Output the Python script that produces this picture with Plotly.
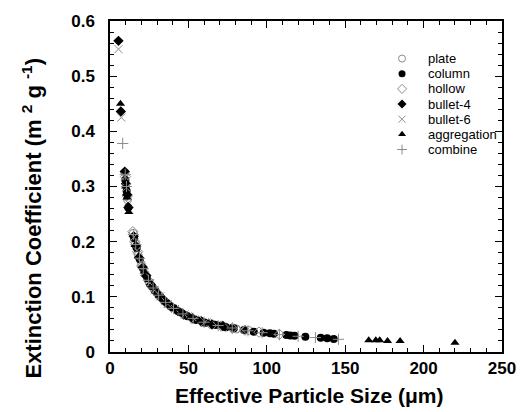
import plotly.graph_objects as go

# Effective particle size (um) and extinction coefficient (m^2/g) per ice-crystal habit
plate_d = [9.5, 11.2, 14.8, 16.2, 18.0, 20.0, 22.5, 25.0, 28.0, 31.0, 34.5, 38.5, 43.0, 48.0, 53.5, 59.5, 66.0, 73.0, 80.5, 88.5]
plate_k = [0.325, 0.276, 0.215, 0.196, 0.176, 0.159, 0.141, 0.127, 0.114, 0.103, 0.093, 0.083, 0.075, 0.067, 0.060, 0.054, 0.050, 0.046, 0.042, 0.039]

column_d = [9.8, 10.6, 11.6, 15.4, 17.0, 19.0, 21.0, 23.5, 26.5, 29.0, 32.5, 36.0, 40.0, 44.5, 49.5, 55.0, 61.0, 67.5, 74.0, 79.0,
            85.4, 91.7, 98.0, 102.0, 104.5, 112.5, 115.0, 117.7, 124.6, 134.4, 138.5, 142.7]
column_k = [0.312, 0.292, 0.262, 0.206, 0.188, 0.168, 0.152, 0.136, 0.120, 0.111, 0.099, 0.089, 0.080, 0.072, 0.065, 0.058, 0.053, 0.049, 0.045, 0.043,
            0.040, 0.0367, 0.035, 0.0338, 0.033, 0.0307, 0.030, 0.0295, 0.0277, 0.026, 0.0247, 0.0235]

hollow_d = [9.9, 11.0, 14.6, 15.9, 17.6, 20.5, 23.0, 27.0, 30.0, 35.0, 39.0, 46.0, 52.0, 58.0, 64.0, 71.0, 78.0, 86.0, 95.0, 108.0]
hollow_k = [0.318, 0.283, 0.218, 0.200, 0.182, 0.155, 0.139, 0.118, 0.107, 0.091, 0.082, 0.070, 0.062, 0.056, 0.051, 0.047, 0.043, 0.0395, 0.036, 0.032]

bullet4_d = [5.4, 6.9, 9.4, 10.2, 11.0, 11.8, 15.1, 16.6, 18.5, 20.8, 23.0, 26.0, 29.5, 33.5, 37.5, 42.0, 47.0, 52.5, 58.5, 65.0, 72.0]
bullet4_k = [0.564, 0.436, 0.327, 0.305, 0.285, 0.262, 0.210, 0.192, 0.171, 0.153, 0.138, 0.122, 0.108, 0.096, 0.086, 0.077, 0.068, 0.061, 0.055, 0.050, 0.047]

bullet6_d = [5.4, 7.2, 9.6, 10.4, 11.4, 15.2, 17.2, 19.5, 22.0, 25.5, 28.5, 32.0, 36.8, 41.5, 47.5, 54.0, 60.5, 68.0, 76.0, 84.0]
bullet6_k = [0.549, 0.425, 0.318, 0.298, 0.270, 0.208, 0.184, 0.163, 0.145, 0.125, 0.112, 0.101, 0.087, 0.078, 0.068, 0.059, 0.054, 0.048, 0.044, 0.041]

aggreg_d = [6.7, 10.0, 10.8, 11.5, 12.0, 16.0, 18.2, 21.8, 24.5, 27.5, 31.5, 35.5, 41.0, 45.5, 51.0, 57.0, 63.0, 70.0, 77.0,
            165.0, 169.5, 172.0, 177.0, 185.0, 220.0]
aggreg_k = [0.450, 0.300, 0.280, 0.265, 0.254, 0.194, 0.174, 0.146, 0.130, 0.117, 0.102, 0.090, 0.079, 0.071, 0.063, 0.057, 0.052, 0.048, 0.044,
            0.0215, 0.0215, 0.0212, 0.0198, 0.0198, 0.0168]

combine_d = [8.1, 9.7, 10.5, 14.9, 16.4, 18.8, 21.2, 24.5, 27.5, 31.0, 35.5, 40.5, 46.5, 53.0, 60.0, 69.0, 78.0, 88.0, 97.0, 108.0, 120.0, 131.0, 145.7]
combine_k = [0.378, 0.322, 0.300, 0.213, 0.195, 0.170, 0.151, 0.130, 0.116, 0.103, 0.090, 0.079, 0.069, 0.061, 0.054, 0.048, 0.0435, 0.0385, 0.035, 0.0315, 0.0285, 0.0262, 0.023]

GRAY = "#8c8c8c"
FONT = "Liberation Sans, Arial, sans-serif"

# (label, x, y, symbol, colour, open outline?)
series = [
    ("plate", plate_d, plate_k, "circle-open", GRAY, True),
    ("column", column_d, column_k, "circle", "black", False),
    ("hollow", hollow_d, hollow_k, "diamond-open", GRAY, True),
    ("bullet-4", bullet4_d, bullet4_k, "diamond", "black", False),
    ("bullet-6", bullet6_d, bullet6_k, "x-thin-open", GRAY, True),
    ("aggregation", aggreg_d, aggreg_k, "triangle-up", "black", False),
    ("combine", combine_d, combine_k, "cross-thin-open", GRAY, True),
]


def marker_style(symbol, color, is_open, size):
    m = dict(symbol=symbol, size=size, color=color)
    if is_open:
        m["line"] = dict(width=1, color=color)
    else:
        m["line"] = dict(width=0)
    return m


fig = go.Figure()
for name, d, k, symbol, color, is_open in series:
    fig.add_trace(go.Scatter(x=d, y=k, mode="markers", name=name, showlegend=False,
                             marker=marker_style(symbol, color, is_open, 8)))

# Hand-built key: symbols on an overlay axis spanning the plot area in [0,1]
LEG_SYM_X = 0.745
LEG_TXT_X = 0.806
LEG_TOP = 0.8865
LEG_STEP = 0.0458
annotations = []
for i, (name, _, _, symbol, color, is_open) in enumerate(series):
    yy = LEG_TOP - i * LEG_STEP
    fig.add_trace(go.Scatter(x=[LEG_SYM_X], y=[yy], mode="markers", showlegend=False,
                             xaxis="x2", yaxis="y2", hoverinfo="skip",
                             marker=marker_style(symbol, color, is_open, 7)))
    annotations.append(dict(text=name, xref="paper", yref="paper", x=LEG_TXT_X, y=yy,
                            xanchor="left", yanchor="middle", showarrow=False,
                            font=dict(family=FONT, size=13, color="black")))

# Axis titles
annotations.append(dict(text="Effective Particle Size (μm)", xref="paper", yref="paper",
                        x=0.5075, y=-0.13, xanchor="center", yanchor="middle", showarrow=False,
                        font=dict(family=FONT, size=21, color="black", weight="bold")))
annotations.append(dict(text="Extinction Coefficient (m <sup>2</sup> g <sup>-1</sup>)", xref="paper", yref="paper",
                        x=-0.2, y=0.405, xanchor="center", yanchor="middle", textangle=-90, showarrow=False,
                        font=dict(family=FONT, size=22, color="black", weight="bold")))

axis_common = dict(
    showline=True, linecolor="black", linewidth=1.5, mirror="ticks",
    ticks="inside", ticklen=7, tickwidth=1.2, tickcolor="black",
    showgrid=False, zeroline=False,
    tickfont=dict(family=FONT, size=17, color="black", weight="bold"),
)

fig.update_xaxes(
    range=[0, 250], dtick=50, tick0=0,
    minor=dict(dtick=10, ticks="inside", ticklen=4, tickwidth=1, tickcolor="black"),
    ticklabelstandoff=0,
    **axis_common,
)
fig.update_yaxes(
    range=[0, 0.6], dtick=0.1, tick0=0,
    minor=dict(dtick=0.02, ticks="inside", ticklen=4, tickwidth=1, tickcolor="black"),
    ticklabelstandoff=10,
    **axis_common,
)

fig.update_layout(
    width=528, height=412,
    margin=dict(l=110, r=18, t=20, b=60),
    paper_bgcolor="white", plot_bgcolor="white",
    showlegend=False,
    xaxis2=dict(overlaying="x", range=[0, 1], visible=False, fixedrange=True),
    yaxis2=dict(overlaying="y", range=[0, 1], visible=False, fixedrange=True),
    annotations=annotations,
)

fig.write_html("out.html")
